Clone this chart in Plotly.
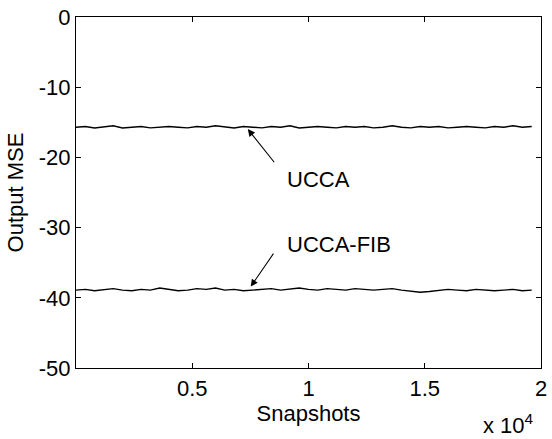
import plotly.graph_objects as go

snapshots = [i * 400 for i in range(50)]
ucca = [-15.7,-15.6,-15.8,-15.7,-15.5,-15.8,-15.7,-15.6,-15.8,-15.7,
        -15.6,-15.7,-15.8,-15.6,-15.7,-15.5,-15.7,-15.8,-15.6,-15.7,
        -15.8,-15.6,-15.7,-15.5,-15.8,-15.7,-15.6,-15.7,-15.8,-15.6,
        -15.7,-15.6,-15.8,-15.7,-15.5,-15.7,-15.8,-15.6,-15.7,-15.6,
        -15.8,-15.7,-15.6,-15.7,-15.8,-15.6,-15.7,-15.5,-15.7,-15.6]
ucca_fib = [-38.9,-38.8,-39.0,-38.9,-38.7,-38.9,-39.0,-38.8,-38.9,-38.6,
            -38.8,-39.0,-38.9,-38.7,-38.8,-38.6,-38.9,-38.8,-39.0,-38.9,
            -38.8,-38.7,-38.9,-38.8,-38.6,-38.8,-38.9,-38.7,-38.8,-38.9,
            -38.7,-38.8,-38.9,-38.8,-38.7,-38.9,-39.0,-39.2,-39.1,-38.9,
            -38.8,-38.9,-39.0,-38.8,-38.9,-39.0,-38.9,-38.8,-39.0,-38.9]

x_tickvals = [5000, 10000, 15000, 20000]
x_ticktext = ["0.5", "1", "1.5", "2"]
y_tickvals = [0, -10, -20, -30, -40, -50]
y_ticktext = ["0", "-10", "-20", "-30", "-40", "-50"]

FONT = "Liberation Sans, Arial, sans-serif"
FS = 22

fig = go.Figure()
fig.add_trace(go.Scatter(x=snapshots, y=ucca, mode="lines",
                         line=dict(color="black", width=1.4), name="UCCA"))
fig.add_trace(go.Scatter(x=snapshots, y=ucca_fib, mode="lines",
                         line=dict(color="black", width=1.4), name="UCCA-FIB"))

# arrows
fig.add_annotation(x=7389, y=-15.97, ax=8577, ay=-20.9, xref="x", yref="y",
                   axref="x", ayref="y", text="", showarrow=True,
                   arrowhead=2, arrowsize=1.3, arrowwidth=1.1, arrowcolor="black")
fig.add_annotation(x=9002, y=-23.2, xref="x", yref="y", text="UCCA",
                   showarrow=False, xanchor="left", yanchor="middle",
                   font=dict(size=FS, color="black", family=FONT))
fig.add_annotation(x=7516, y=-38.4, ax=8535, ay=-33.5, xref="x", yref="y",
                   axref="x", ayref="y", text="", showarrow=True,
                   arrowhead=2, arrowsize=1.3, arrowwidth=1.1, arrowcolor="black")
fig.add_annotation(x=9002, y=-32.35, xref="x", yref="y", text="UCCA-FIB",
                   showarrow=False, xanchor="left", yanchor="middle",
                   font=dict(size=FS, color="black", family=FONT))
fig.add_annotation(x=0.99, y=-0.113, xref="paper", yref="paper",
                   text="x 10<sup>4</sup>", showarrow=False,
                   xanchor="right", yanchor="top",
                   font=dict(size=FS, color="black", family=FONT))

axis_common = dict(showline=True, linecolor="black", linewidth=1.3, mirror="ticks",
                   ticks="inside", ticklen=5, tickcolor="black", tickwidth=1,
                   showgrid=False, zeroline=False, ticklabeloverflow="allow",
                   tickfont=dict(size=FS, color="black", family=FONT))

fig.update_xaxes(range=[0, 20000], tickvals=x_tickvals, ticktext=x_ticktext,
                 title=dict(text="Snapshots", standoff=2,
                            font=dict(size=FS, color="black", family=FONT)),
                 **axis_common)
fig.update_yaxes(range=[-50, 0], tickvals=y_tickvals, ticktext=y_ticktext,
                 title=dict(text="Output MSE", standoff=8,
                            font=dict(size=FS, color="black", family=FONT)),
                 **axis_common)

fig.update_layout(width=552, height=439, margin=dict(l=76, r=5, t=11, b=71),
                  plot_bgcolor="white", paper_bgcolor="white", showlegend=False)

fig.write_html("out.html")
